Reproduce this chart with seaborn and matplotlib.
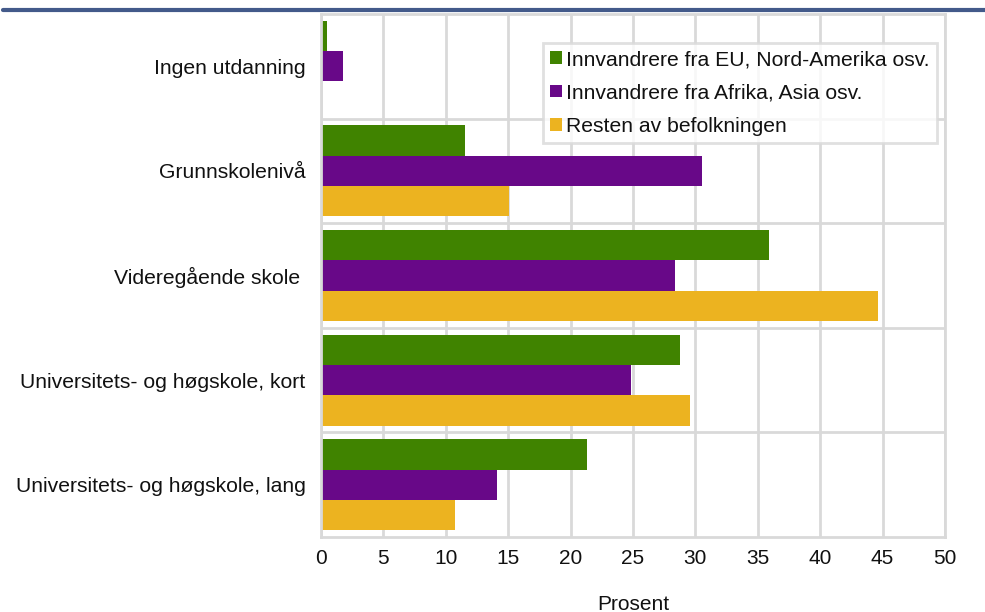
import matplotlib
matplotlib.use("Agg")
import matplotlib.pyplot as plt
from matplotlib.lines import Line2D
import seaborn as sns
import pandas as pd

categories = ["Ingen utdanning", "Grunnskolenivå", "Videregående skole ",
              "Universitets- og høgskole, kort", "Universitets- og høgskole, lang"]
series = ["Innvandrere fra EU, Nord-Amerika osv.",
          "Innvandrere fra Afrika, Asia osv.",
          "Resten av befolkningen"]
eu_na = [0.45, 11.5, 35.9, 28.8, 21.3]
afr_asia = [1.75, 30.5, 28.4, 24.8, 14.1]
resten = [0.0, 15.1, 44.6, 29.6, 10.7]
x_ticks = [0, 5, 10, 15, 20, 25, 30, 35, 40, 45, 50]
x_label = "Prosent"

colors = ["#408300", "#680888", "#ECB320"]

rows = []
for s, vals in zip(series, [eu_na, afr_asia, resten]):
    for c, v in zip(categories, vals):
        rows.append({"kategori": c, "serie": s, "verdi": v})
df = pd.DataFrame(rows)

sns.set_theme(style="white")
plt.rcParams["font.family"] = ["Liberation Sans", "DejaVu Sans"]

fig = plt.figure(figsize=(9.85, 6.12), dpi=100)
ax = fig.add_axes([321/985, 1-537/612, (945-321)/985, (537-14)/612])

sns.barplot(data=df, y="kategori", x="verdi", hue="serie", order=categories,
            hue_order=series, palette=colors, orient="h", width=0.87, gap=0,
            linewidth=0, saturation=1, ax=ax, errorbar=None)

ax.set_xlim(0, 50)
ax.set_ylim(4.5, -0.5)
ax.set_xticks(x_ticks)
ax.set_xticklabels([str(t) for t in x_ticks], fontsize=15, color="#111111")
ax.set_yticks(range(len(categories)))
ax.set_yticklabels(categories, fontsize=15.2, color="#111111")
ax.set_yticks([i + 0.5 for i in range(len(categories) - 1)], minor=True)
ax.tick_params(axis="y", which="both", length=0, pad=11)
ax.tick_params(axis="x", length=0, pad=9)
ax.set_ylabel("")
ax.set_xlabel(x_label, fontsize=15, color="#111111", labelpad=19)

ax.set_axisbelow(True)
ax.grid(axis="x", which="major", color="#d9d9d9", linewidth=2)
ax.grid(axis="y", which="minor", color="#d9d9d9", linewidth=2)
ax.grid(axis="y", which="major", visible=False)
for sp in ax.spines.values():
    sp.set_visible(True)
    sp.set_color("#d9d9d9")
    sp.set_linewidth(2)

leg = ax.legend(loc="upper right", bbox_to_anchor=(0.987, 0.945), fontsize=15.2,
                frameon=True, fancybox=False, edgecolor="#d9d9d9",
                handlelength=0.55, handleheight=0.55, handletextpad=0.2,
                borderpad=0.35, labelspacing=0.68, borderaxespad=0)
leg.get_frame().set_linewidth(2)
for t in leg.get_texts():
    t.set_color("#111111")

fig.add_artist(Line2D([3/985, 1], [1-10/612, 1-10/612], color="#435a8a",
                      linewidth=3, transform=fig.transFigure))

fig.savefig("out.png", dpi=100)
